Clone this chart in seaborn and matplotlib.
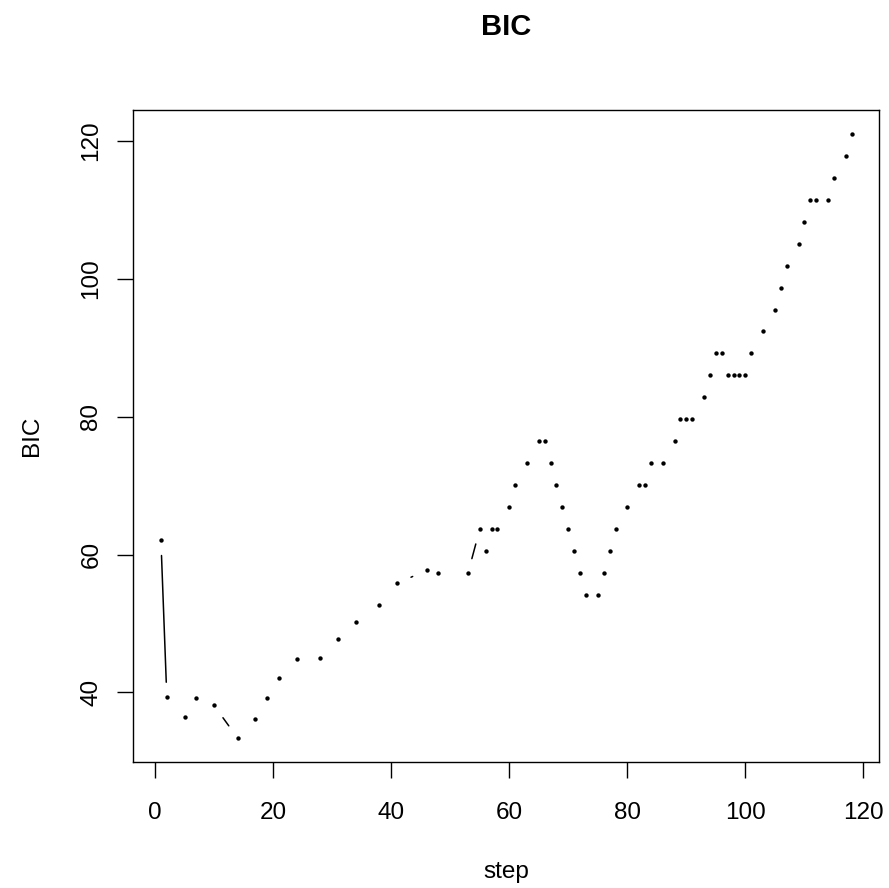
import numpy as np
import pandas as pd
import matplotlib
matplotlib.use("Agg")
import matplotlib.pyplot as plt
import seaborn as sns

# values
step = [1, 2, 5, 7, 10, 14, 17, 19, 21, 24, 28, 31, 34, 38, 41, 46, 48, 53, 55, 56,
        57, 58, 60, 61, 63, 65, 66, 67, 68, 69, 70, 71, 72, 73, 75, 76, 77, 78, 80, 82,
        83, 84, 86, 88, 89, 90, 91, 93, 94, 95, 96, 97, 98, 99, 100, 101, 103, 105, 106, 107,
        109, 110, 111, 112, 114, 115, 117, 118]
bic = [62.07, 39.27, 36.37, 39.13, 38.11, 33.36, 36.08, 39.13, 42.03, 44.79,
       44.94, 47.70, 50.16, 52.63, 55.83, 57.71, 57.28, 57.28, 63.67, 60.47,
       63.67, 63.67, 66.86, 70.05, 73.25, 76.44, 76.44, 73.25, 70.05, 66.86,
       63.67, 60.47, 57.28, 54.08, 54.08, 57.28, 60.47, 63.67, 66.86, 70.05,
       70.05, 73.25, 73.25, 76.44, 79.64, 79.64, 79.64, 82.83, 86.03, 89.22,
       89.22, 86.03, 86.03, 86.03, 86.03, 89.22, 92.41, 95.46, 98.64, 101.85,
       105.04, 108.24, 111.43, 111.43, 111.43, 114.63, 117.82, 121.02]
xticks = [0, 20, 40, 60, 80, 100, 120]
yticks = [40, 60, 80, 100, 120]

sns.set_theme(style="white")
plt.rcParams['font.family'] = ['Liberation Sans', 'DejaVu Sans']

df = pd.DataFrame({'step': step, 'BIC': bic})

W, H = 889, 888
fig = plt.figure(figsize=(W / 100, H / 100), dpi=100)
ax = fig.add_axes([133.3 / W, 1 - 762.3 / H, 746 / W, 652.3 / H])

sns.scatterplot(data=df, x='step', y='BIC', ax=ax, s=10, color='black',
                linewidth=0, zorder=3)


# R-style 4% axis padding
def padded(v):
    lo, hi = min(v), max(v)
    d = 0.04 * (hi - lo)
    return lo - d, hi + d


ax.set_xlim(*padded(step))
ax.set_ylim(*padded(bic))

# type="b": segments between points, cut back near each point
gap = 15.2 * fig.dpi / 100
pts = ax.transData.transform(df[['step', 'BIC']].to_numpy())
inv = ax.transData.inverted()
for p0, p1 in zip(pts[:-1], pts[1:]):
    d = p1 - p0
    L = np.hypot(*d)
    if L <= 2 * gap:
        continue
    u = d / L
    seg = inv.transform(np.array([p0 + u * gap, p1 - u * gap]))
    ax.plot(seg[:, 0], seg[:, 1], color='black', lw=1.1)

ax.set_xticks(xticks)
ax.set_yticks(yticks)
ax.tick_params(axis='both', direction='out', length=11.5, width=1.0, color='black',
               labelsize=17.5, labelcolor='black', bottom=True, left=True)
ax.tick_params(axis='x', pad=17)
ax.tick_params(axis='y', pad=10.8, labelrotation=90)
for lbl in ax.get_yticklabels():
    lbl.set_va('center')

for s in ax.spines.values():
    s.set_color('black')
    s.set_linewidth(1.0)

ax.set_xlabel('step', fontsize=17.5, color='black')
ax.xaxis.set_label_coords(0.5, -(878 - 762.3) / 652.3)
ax.xaxis.label.set_va('baseline')
ax.set_ylabel('BIC', fontsize=17.5, color='black')
ax.yaxis.set_label_coords(-(133.3 - 38) / 746, 0.5)
ax.yaxis.label.set_va('baseline')

ax.set_title('BIC', fontsize=21, fontweight='bold', pad=54, color='black')

fig.savefig('out.png', dpi=100)
plt.close(fig)
